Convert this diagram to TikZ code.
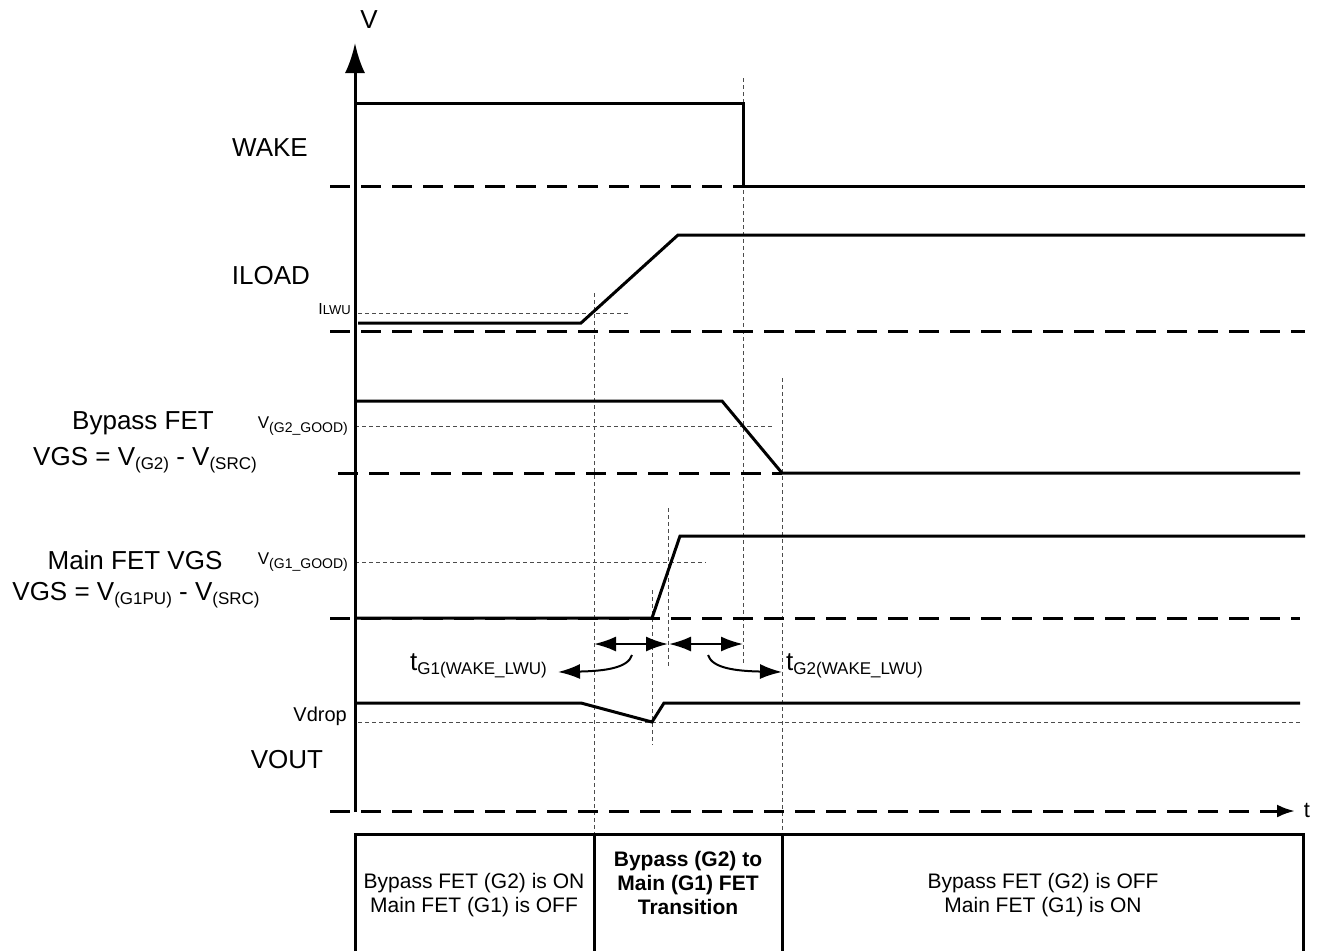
\documentclass[tikz,border=0pt]{standalone}
\usepackage{fontspec}
\setmainfont{Liberation Sans}
\usetikzlibrary{arrows.meta}
\newcommand\fsz[1]{\fontsize{#1}{#1}\selectfont}
\newcommand\lsub[2]{\raisebox{-4pt}{\fsz{#1}#2}}
\begin{document}
\begin{tikzpicture}[x=1pt,y=-1pt,
  sig/.style={line width=3pt, line join=miter},
  basel/.style={line width=3pt, dash pattern=on 20pt off 11pt},
  guide/.style={line width=0.9pt, black!70, dash pattern=on 4pt off 3pt},
  lbl/.style={font=\fsz{26}, inner sep=0pt},
  small/.style={inner sep=0pt, anchor=east},
  cell/.style={font=\fontsize{21}{24}\selectfont, align=center, inner sep=0pt},
  bigtip/.tip={Latex[length=22pt,width=15pt]}]
\useasboundingbox (0,0) rectangle (1321,951);

% guide lines
\draw[guide] (358,313) -- (628,313);
\draw[guide] (355,426) -- (772,426);
\draw[guide] (355,562) -- (706,562);
\draw[guide] (358,722) -- (1300,722);
\draw[guide] (594,293) -- (594,833);
\draw[guide] (652,590) -- (652,745);
\draw[guide] (668,508) -- (668,668);
\draw[guide] (743,78) -- (743,663);
\draw[guide] (782,378) -- (782,833);

% vertical axis
\draw[line width=3pt, -{Latex[length=30pt,width=20pt]}] (355,812) -- (355,43);
\node[lbl] (vlab) at (369,20) {V};

% WAKE
\draw[basel] (330,186) -- (743,186);
\draw[sig] (355,103) -- (743,103) -- (743,186) -- (1305,186);
\node[lbl] (wake) at (270,148) {WAKE};

% ILOAD
\draw[basel] (330,331) -- (1305,331);
\draw[sig] (358,323) -- (581,323) -- (678,235) -- (1305,235);
\node[lbl] (iload) at (271,276) {ILOAD};
\node[small] (ilwu) at (351,309) {{\fsz{16}I}{\fsz{13}LWU}};

% Bypass FET
\draw[basel] (338,473) -- (782,473);
\draw[sig] (355,401) -- (722,401) -- (782,473) -- (1300,473);
\node[lbl] (byp1) at (143,423) {Bypass FET};
\node[lbl] (byp2) at (145,460) {VGS = V\lsub{17}{(G2)} - V\lsub{17}{(SRC)}};
\node[small] (g2good) at (348,426) {{\fsz{17}V}\lsub{14}{(G2\_GOOD)}};

% Main FET
\draw[basel] (330,618) -- (1300,618);
\draw[sig] (355,618) -- (652,618) -- (680,536) -- (1305,536);
\node[lbl] (main1) at (135,560) {Main FET VGS};
\node[lbl] (main2) at (136,595) {VGS = V\lsub{17}{(G1PU)} - V\lsub{17}{(SRC)}};
\node[small] (g1good) at (348,562) {{\fsz{17}V}\lsub{14}{(G1\_GOOD)}};

% timing arrows
\draw[line width=2pt, {bigtip}-{bigtip}] (594,644) -- (668,644);
\draw[line width=2pt, {bigtip}-{bigtip}] (669,644) -- (743,644);
\draw[line width=2pt, -{bigtip}] (632,655) .. controls (628,668) and (605,671) .. (558,672);
\draw[line width=2pt, -{bigtip}] (708,655) .. controls (712,668) and (735,671) .. (782,672);
\node[inner sep=0pt, anchor=west] (tg1) at (410,666) {{\fsz{26}t}\lsub{17}{G1(WAKE\_LWU)}};
\node[inner sep=0pt, anchor=west] (tg2) at (786,666) {{\fsz{26}t}\lsub{17}{G2(WAKE\_LWU)}};

% VOUT
\draw[sig] (355,703) -- (581,703) -- (652,722) -- (664,703) -- (1300,703);
\node[small] (vdrop) at (347,716) {\fsz{20}Vdrop};
\node[lbl] (vout) at (287,760) {VOUT};
\draw[basel, -{Latex[length=18pt,width=13pt]}] (330,811) -- (1295,811);
\node[inner sep=0pt, font=\fsz{22}] (tlab) at (1307,810) {t};

% table
\draw[line width=3pt] (355,951) -- (355,834) -- (1303,834) -- (1303,951);
\draw[line width=3pt] (594,834) -- (594,951);
\draw[line width=3pt] (782,834) -- (782,951);
\node[cell] (c1) at (474,895) {Bypass FET (G2) is ON\\Main FET (G1) is OFF};
\node[cell, font=\fontsize{21}{24}\selectfont\bfseries] (c2) at (688,883) {Bypass (G2) to\\Main (G1) FET\\Transition};
\node[cell] (c3) at (1043,895) {Bypass FET (G2) is OFF\\Main FET (G1) is ON};
\end{tikzpicture}
\end{document}
